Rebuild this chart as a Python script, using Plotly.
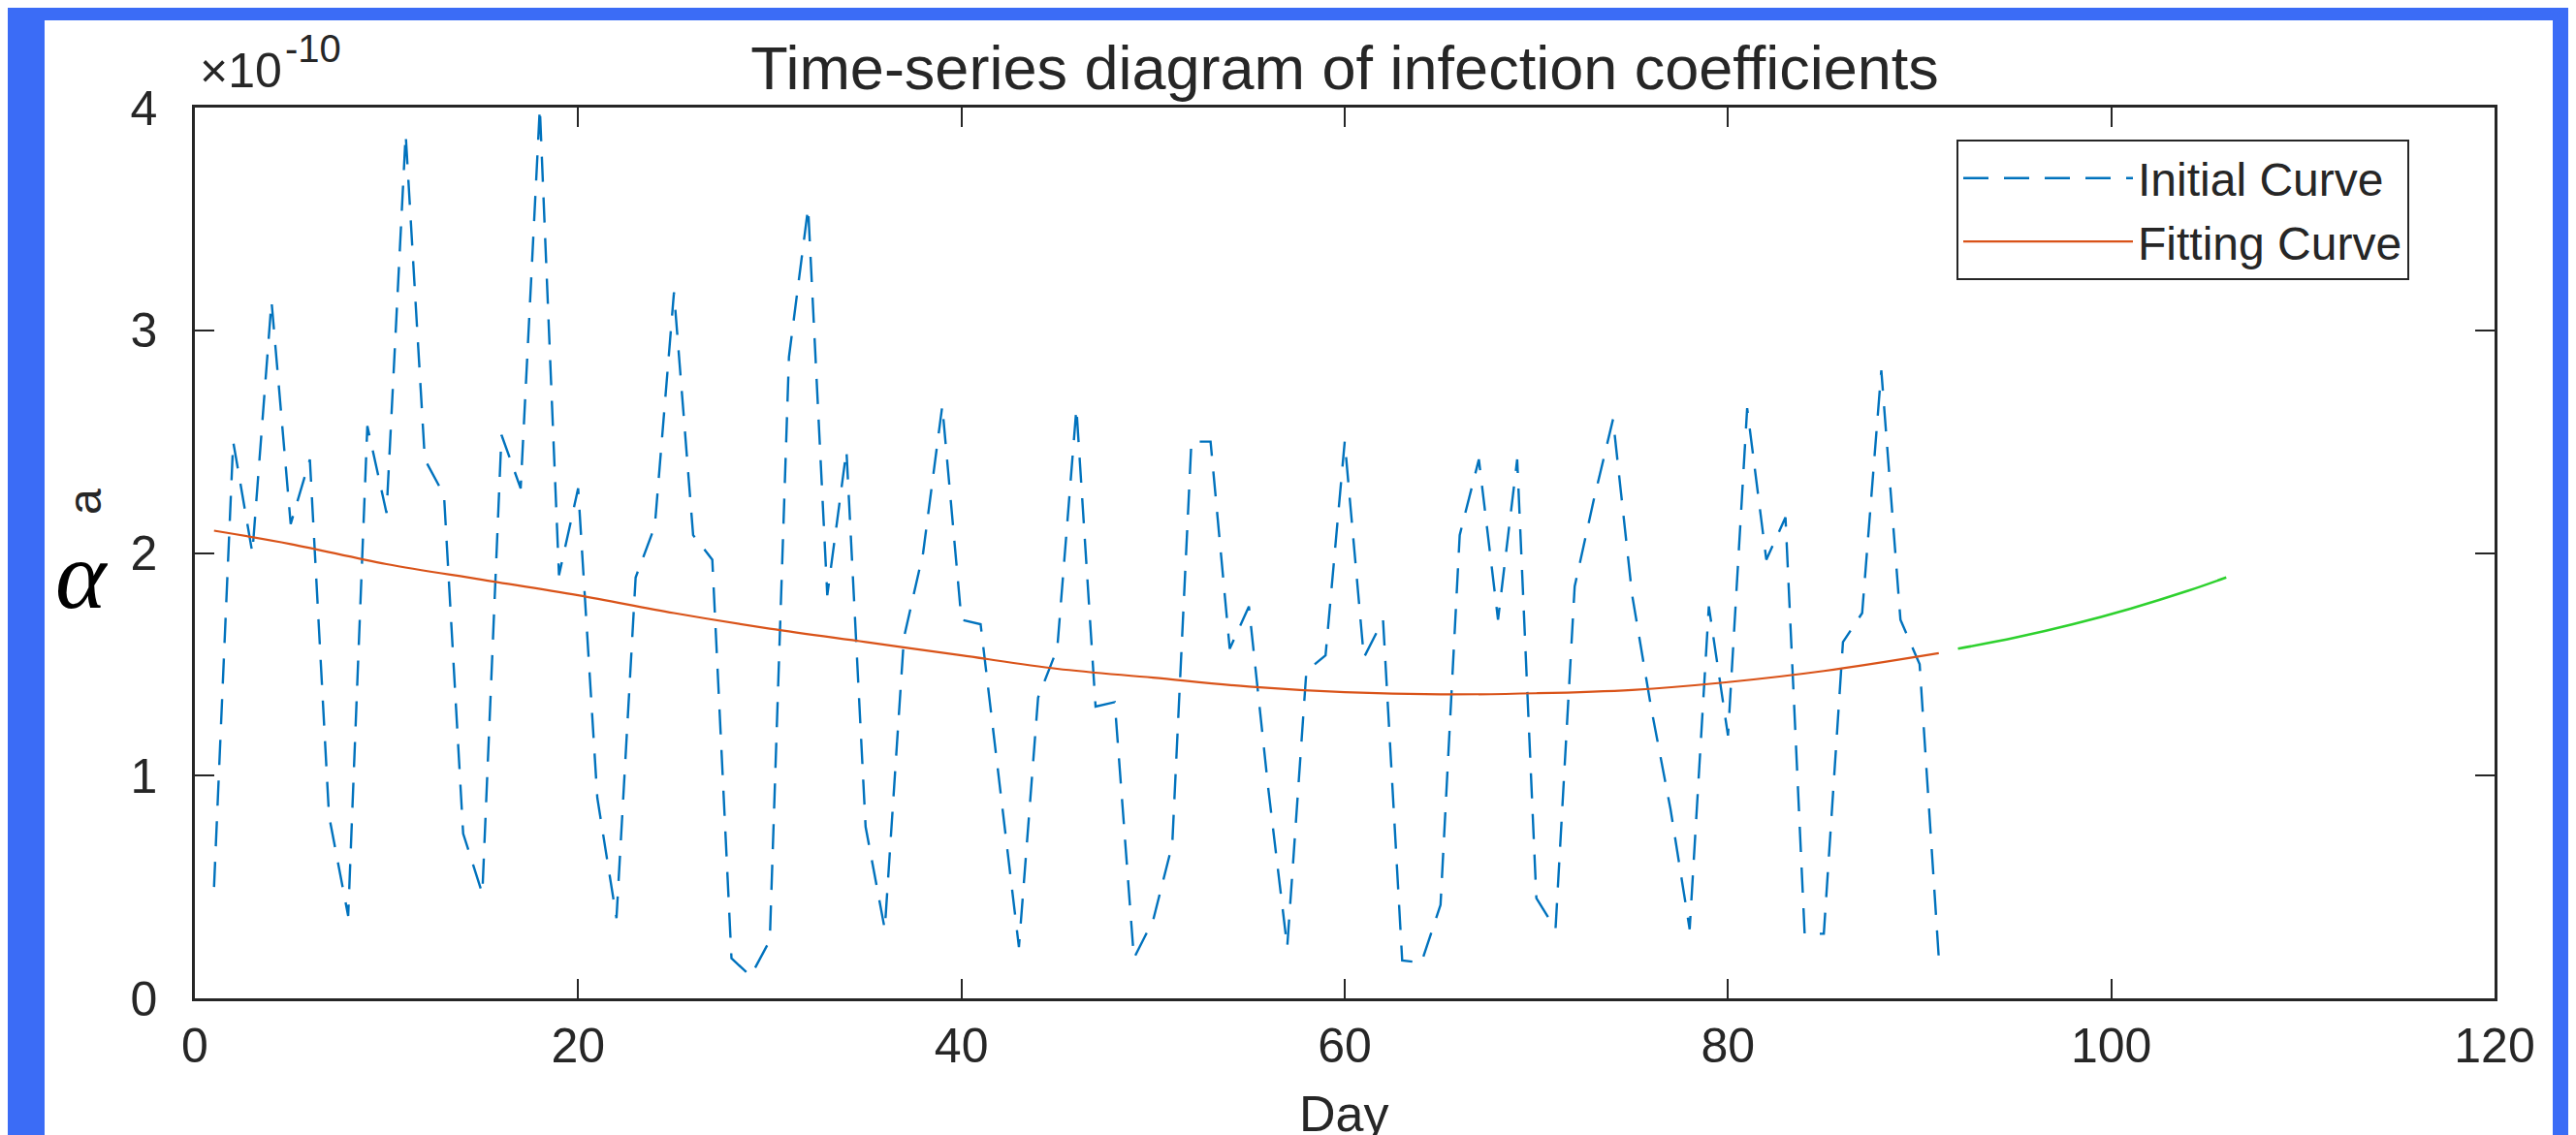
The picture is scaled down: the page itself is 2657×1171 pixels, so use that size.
import plotly.graph_objects as go

# ---- data (values in units of 1e-10) ----
days = list(range(1, 92))
initial_curve = [
    0.50, 2.50, 2.00, 3.13, 2.13, 2.42, 0.82, 0.37, 2.57, 2.18,
    3.88, 2.42, 2.26, 0.74, 0.47, 2.53, 2.29, 4.00, 1.90, 2.29,
    0.90, 0.36, 1.89, 2.12, 3.17, 2.08, 1.97, 0.18, 0.10, 0.26,
    2.88, 3.55, 1.81, 2.46, 0.77, 0.31, 1.62, 2.00, 2.66, 1.70,
    1.68, 0.95, 0.23, 1.35, 1.57, 2.65, 1.31, 1.33, 0.18, 0.35,
    0.69, 2.50, 2.50, 1.57, 1.76, 0.95, 0.23, 1.47, 1.54, 2.50,
    1.53, 1.70, 0.17, 0.16, 0.42, 2.08, 2.42, 1.70, 2.42, 0.45,
    0.31, 1.85, 2.24, 2.60, 1.81, 1.30, 0.85, 0.31, 1.76, 1.18,
    2.65, 1.97, 2.16, 0.29, 0.29, 1.60, 1.73, 2.82, 1.70, 1.50,
    0.18,
]
fit_days = [1, 5, 10, 15, 20, 25, 30, 35, 40, 45, 50, 55, 60, 65, 70, 75, 80, 85, 91]
fit_values = [2.10, 2.04, 1.95, 1.88, 1.81, 1.73, 1.66, 1.60, 1.54, 1.48,
              1.44, 1.40, 1.375, 1.365, 1.37, 1.385, 1.42, 1.47, 1.55]
forecast_days = [92, 95, 98, 101, 104, 106]
forecast_values = [1.57, 1.62, 1.68, 1.75, 1.83, 1.89]

x_ticks = [0, 20, 40, 60, 80, 100, 120]
y_ticks = [0, 1, 2, 3, 4]

# ---- styling ----
FONT = "Liberation Sans, Arial, sans-serif"
TXT = "#262626"
BLUE_BG = "#3b6cf6"

W, H = 2657, 1171
L, R, T, B = 193, 92, 103, 149
PW, PH = W - L - R, H - T - B


def px_x(px):
    return (px - L) / PW


def px_y(py):
    return (H - B - py) / PH


fig = go.Figure()
fig.add_trace(go.Scatter(
    x=days, y=initial_curve, mode="lines", name="Initial Curve",
    line=dict(color="#0072BD", width=2.4, dash="26px,16px"),
))
fig.add_trace(go.Scatter(
    x=fit_days, y=fit_values, mode="lines", name="Fitting Curve",
    line=dict(color="#D95319", width=2.2, shape="spline"),
))
fig.add_trace(go.Scatter(
    x=forecast_days, y=forecast_values, mode="lines", showlegend=False,
    line=dict(color="#2ed12e", width=2.5, shape="spline"),
))

axis_common = dict(
    showgrid=False, zeroline=False, showline=True, linecolor=TXT, linewidth=2.5,
    mirror="ticks", ticks="inside", ticklen=20, tickwidth=2, tickcolor=TXT,
    tickfont=dict(family=FONT, size=50, color=TXT),
)

fig.update_layout(
    width=W, height=H,
    margin=dict(l=L, r=R, t=T, b=B, pad=0),
    paper_bgcolor=BLUE_BG, plot_bgcolor="white",
    font=dict(family=FONT, color=TXT),
    title=dict(
        text="Time-series diagram of infection coefficients",
        font=dict(family=FONT, size=63, color=TXT),
        x=0.5, xref="paper", xanchor="center",
        y=1 - 62 / H, yref="container", yanchor="middle",
    ),
    xaxis=dict(range=[0, 120], tickvals=x_ticks, ticklabelstandoff=3, **axis_common),
    yaxis=dict(range=[0, 4], tickvals=y_ticks, ticklabelstandoff=26, **axis_common),
    legend=dict(
        x=px_x(2010), y=px_y(136), xanchor="left", yanchor="top",
        xref="paper", yref="paper",
        bgcolor="white", bordercolor=TXT, borderwidth=2,
        font=dict(family=FONT, size=48, color=TXT),
        itemwidth=175, tracegroupgap=0,
    ),
    shapes=[dict(
        type="rect", xref="paper", yref="paper", layer="below",
        x0=px_x(38), x1=px_x(2625), y0=px_y(H + 5), y1=px_y(13),
        fillcolor="white", line=dict(width=0),
    )],
    annotations=[
        dict(text="×10", xref="paper", yref="paper",
             x=px_x(196), y=px_y(95), xanchor="left", yanchor="bottom",
             showarrow=False, font=dict(family=FONT, size=50, color=TXT)),
        dict(text="-10", xref="paper", yref="paper",
             x=px_x(284), y=px_y(66), xanchor="left", yanchor="bottom",
             showarrow=False, font=dict(family=FONT, size=40, color=TXT)),
        dict(text="a", xref="paper", yref="paper", x=px_x(79), y=px_y(510),
             xanchor="center", yanchor="middle", textangle=-90,
             showarrow=False, font=dict(family=FONT, size=48, color=TXT)),
        dict(text="<i>α</i>", xref="paper", yref="paper", x=px_x(76), y=px_y(585),
             xanchor="center", yanchor="middle",
             showarrow=False, font=dict(family="Liberation Serif, Times New Roman, serif", size=100, color="black")),
        dict(text="Day", xref="paper", yref="paper", x=px_x(1378), y=px_y(1110),
             xanchor="center", yanchor="top",
             showarrow=False, font=dict(family=FONT, size=52, color=TXT)),
    ],
)

fig.write_html("out.html")
